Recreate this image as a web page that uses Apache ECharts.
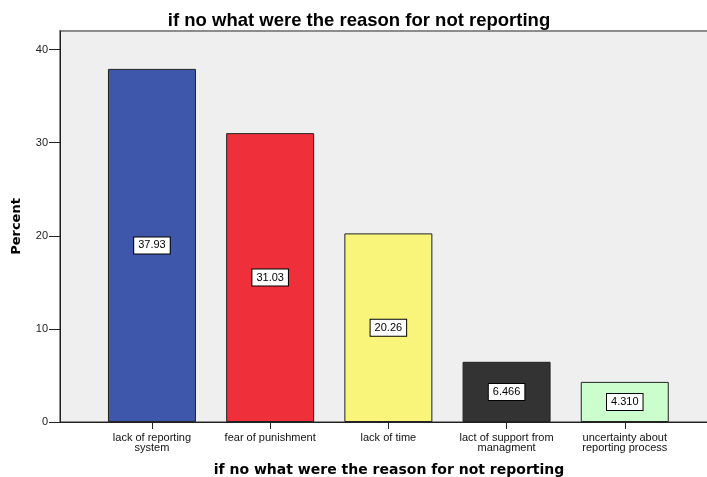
<!DOCTYPE html>
<html>
<head>
<meta charset="utf-8">
<script src="https://cdn.jsdelivr.net/npm/echarts@6/dist/echarts.min.js"></script>
<style>html,body{margin:0;padding:0;background:#fff}#c{width:707px;height:477px}</style>
</head>
<body>
<div id="c"></div>
<script>
const categories = ["lack of reporting\nsystem", "fear of punishment", "lack of time", "lact of support from\nmanagment", "uncertainty about\nreporting process"];
const percentValues = [37.93, 31.03, 20.26, 6.466, 4.310];
const valueLabels = ["37.93", "31.03", "20.26", "6.466", "4.310"];
const barColors = ["#3f57ab", "#ef2f3a", "#f8f57a", "#333333", "#ccfdcc"];
const yTicks = [0, 10, 20, 30, 40];
const catPositions = [0, 1, 2, 3, 4];
const titleText = "if no what were the reason for not reporting";

const chart = echarts.init(document.getElementById('c'), null, {renderer: 'canvas'});
chart.setOption({
  animation: false,
  backgroundColor: '#ffffff',
  title: {
    text: titleText, left: 354, top: 6, textAlign: 'center',
    textStyle: {fontFamily: 'Liberation Sans', fontWeight: 'bold', fontSize: 18.5, color: '#000'}
  },
  grid: {
    left: 60, top: 31, right: -3, bottom: 55, outerBoundsMode: 'none',
    show: true, backgroundColor: '#efefef', borderColor: '#8c8c8c', borderWidth: 2
  },
  xAxis: {
    type: 'value', min: -0.778, max: 4.721,
    name: titleText, nameLocation: 'middle', nameGap: 41,
    nameTextStyle: {fontFamily: 'DejaVu Sans', fontWeight: 'bold', fontSize: 14, color: '#000', padding: [0, 0, 0, 8]},
    splitLine: {show: false},
    axisLine: {show: true, onZero: false, lineStyle: {color: '#222', width: 1}},
    axisTick: {show: true, customValues: catPositions, length: 7, lineStyle: {color: '#222'}},
    axisLabel: {
      customValues: catPositions, margin: 11,
      fontFamily: 'Liberation Sans', fontSize: 11, lineHeight: 10, color: '#111',
      formatter: v => categories[Math.round(v)]
    }
  },
  yAxis: {
    type: 'value', min: 0, max: 42,
    name: 'Percent', nameLocation: 'middle', nameGap: 37,
    nameTextStyle: {fontFamily: 'DejaVu Sans', fontWeight: 'bold', fontSize: 13, color: '#000'},
    splitLine: {show: false},
    axisLine: {show: true, onZero: false, lineStyle: {color: '#222', width: 1}},
    axisTick: {show: true, customValues: yTicks, length: 11, lineStyle: {color: '#222'}},
    axisLabel: {customValues: yTicks, margin: 12, fontFamily: 'Liberation Sans', fontSize: 11, color: '#222'}
  },
  series: [{
    type: 'bar',
    barWidth: 88,
    data: percentValues.map((v, i) => ({
      value: [catPositions[i], v],
      itemStyle: {color: barColors[i], borderColor: '#222', borderWidth: 1}
    })),
    label: {
      show: true, position: 'inside',
      formatter: p => valueLabels[p.dataIndex],
      fontFamily: 'Liberation Sans', fontSize: 11, color: '#000',
      backgroundColor: '#fff', borderColor: '#000', borderWidth: 1,
      padding: [3, 4, 2, 4]
    }
  }]
});
</script>
</body>
</html>
